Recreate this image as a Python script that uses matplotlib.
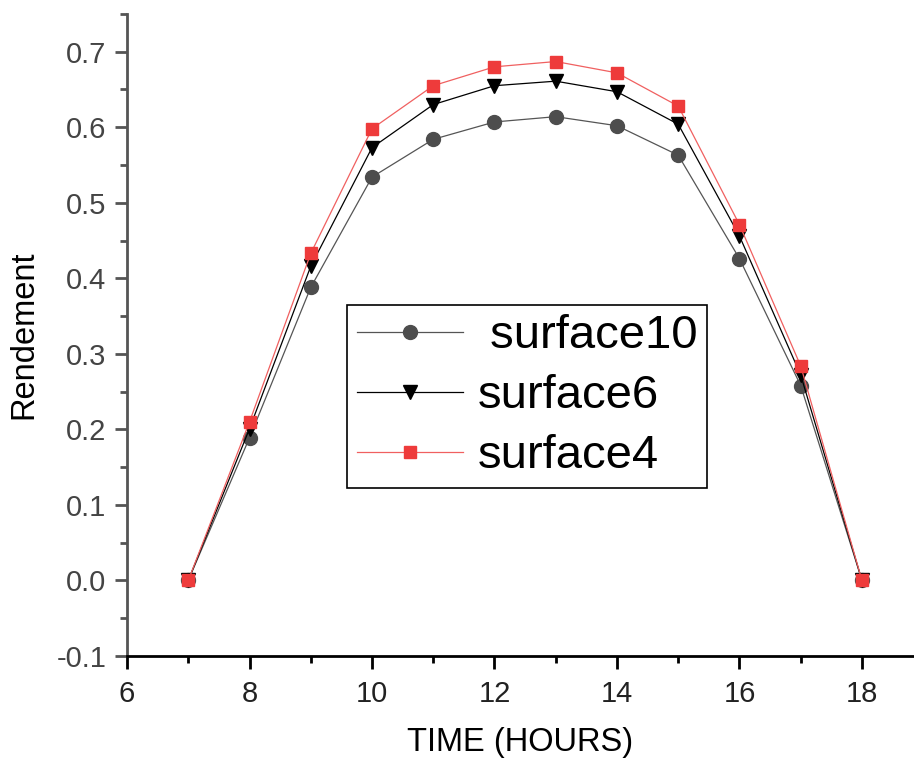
import matplotlib.pyplot as plt
from matplotlib.ticker import MultipleLocator

plt.rcParams['font.family'] = ['Liberation Sans', 'DejaVu Sans']

# 数据
hours = [7, 8, 9, 10, 11, 12, 13, 14, 15, 16, 17, 18]
surface10 = [0.0, 0.189, 0.388, 0.534, 0.584, 0.607, 0.614, 0.602, 0.563, 0.426, 0.258, 0.0]
surface6 = [0.0, 0.201, 0.416, 0.573, 0.630, 0.655, 0.661, 0.647, 0.604, 0.456, 0.272, 0.0]
surface4 = [0.0, 0.210, 0.433, 0.598, 0.655, 0.680, 0.687, 0.672, 0.628, 0.471, 0.284, 0.0]

fig = plt.figure(figsize=(9.14, 7.58), dpi=100)
ax = fig.add_axes([0.139, 0.1346, 0.861, 0.847])

ax.plot(hours, surface10, color='#555555', lw=0.9, marker='o', ms=10,
        mfc='#4d4d4d', mec='#4d4d4d', label=' surface10')
ax.plot(hours, surface6, color='black', lw=0.9, marker='v', ms=10,
        mfc='black', mec='black', label='surface6')
ax.plot(hours, surface4, color='#f06060', lw=0.9, marker='s', ms=9,
        mfc='#ee3b3b', mec='#ee3b3b', label='surface4')

ax.set_xlim(6, 18.85)
ax.set_ylim(-0.1, 0.75)
ax.xaxis.set_major_locator(MultipleLocator(2))
ax.xaxis.set_minor_locator(MultipleLocator(1))
ax.yaxis.set_minor_locator(MultipleLocator(0.05))
ax.set_yticks([-0.1, 0.0, 0.1, 0.2, 0.3, 0.4, 0.5, 0.6, 0.7])
ax.set_yticklabels(['-0.1', '0.0', '0.1', '0.2', '0.3', '0.4', '0.5', '0.6', '0.7'])

for s in ['top', 'right']:
    ax.spines[s].set_visible(False)
ax.spines['left'].set_color('#555555')
ax.spines['left'].set_linewidth(2)
ax.spines['bottom'].set_color('black')
ax.spines['bottom'].set_linewidth(2)

ax.tick_params(axis='y', which='major', direction='out', length=9, width=2,
               color='#555555', labelsize=21, labelcolor='#444444', pad=6)
ax.tick_params(axis='y', which='minor', direction='out', length=5, width=2, color='#555555')
ax.tick_params(axis='x', which='major', direction='out', length=9, width=2,
               color='black', labelsize=21, labelcolor='#222222', pad=8)
ax.tick_params(axis='x', which='minor', direction='out', length=5, width=2, color='black')

ax.set_xlabel('TIME (HOURS)', fontsize=23.5, labelpad=14)
ax.set_ylabel('Rendement', fontsize=23.5, labelpad=12)

leg = ax.legend(loc='lower left', bbox_to_anchor=(0.28, 0.262), fontsize=34,
                frameon=True, fancybox=False, edgecolor='black', framealpha=1,
                handlelength=2.25, handletextpad=0.3, borderpad=0.2,
                labelspacing=0.34, borderaxespad=0)
leg.get_frame().set_linewidth(1.2)

plt.savefig('out.png', dpi=100)
